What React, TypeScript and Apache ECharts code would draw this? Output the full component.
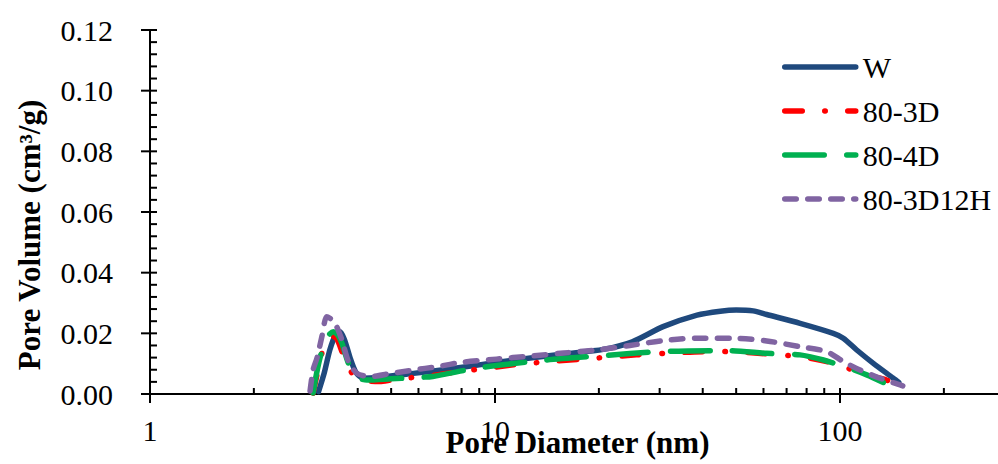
import React, { useEffect, useRef } from "react";
import * as echarts from "echarts";

// Pore diameter (nm) / pore volume (cm3/g)
const W_D = [3.08, 3.2, 3.32, 3.45, 3.55, 3.66, 3.8, 3.95, 4.15, 4.6, 5.8, 7.0, 9.0, 11, 15.8, 20.6, 25, 30.7, 38.5, 45, 50, 56, 61.3, 76.6, 95.6, 102.2, 111.8, 124.9, 142.7, 148];
const W_V = [0.0008, 0.007, 0.0145, 0.0195, 0.0205, 0.018, 0.012, 0.0072, 0.0052, 0.0055, 0.0068, 0.0079, 0.0096, 0.011, 0.0132, 0.0147, 0.0172, 0.0222, 0.026, 0.0273, 0.0277, 0.0274, 0.0262, 0.0233, 0.02, 0.0184, 0.0145, 0.0101, 0.0052, 0.0038];

const R_D = [2.97, 3.05, 3.15, 3.27, 3.38, 3.48, 3.6, 3.75, 3.95, 4.3, 4.64, 5.0, 5.5, 6.48, 7.24, 9, 11.3, 14, 17.6, 21, 25.7, 32, 42, 50, 61.3, 76.6, 91.5, 102.2, 119.5, 136.5, 152];
const R_V = [0.0003, 0.0065, 0.0135, 0.0178, 0.019, 0.0182, 0.014, 0.009, 0.0055, 0.0043, 0.0041, 0.0046, 0.0052, 0.006, 0.0068, 0.0082, 0.0096, 0.0106, 0.0114, 0.0121, 0.0129, 0.0135, 0.014, 0.0139, 0.0132, 0.0123, 0.0107, 0.009, 0.0063, 0.0046, 0.0027];

const G_D = [2.97, 3.04, 3.12, 3.21, 3.3, 3.4, 3.5, 3.6, 3.76, 3.97, 4.25, 5.0, 5.8, 6.6, 9.05, 14.1, 19.7, 30.7, 48, 61.3, 76.6, 89.5, 104.6, 119.5, 133.5];
const G_V = [0.0003, 0.0068, 0.0125, 0.0167, 0.0195, 0.0205, 0.0195, 0.0167, 0.0101, 0.0057, 0.0046, 0.005, 0.0054, 0.0058, 0.0087, 0.0112, 0.0125, 0.014, 0.0143, 0.0134, 0.0129, 0.0112, 0.0088, 0.0063, 0.0038];

const P_D = [2.91, 2.97, 3.05, 3.15, 3.25, 3.34, 3.44, 3.6, 3.76, 3.98, 4.34, 5.0, 5.8, 6.78, 8.09, 10.1, 12.6, 15.8, 19.7, 24.6, 30.7, 38.4, 49.1, 61.3, 76.6, 91.5, 102.2, 114.3, 130.6, 149.3, 152];
const P_V = [0.001, 0.008, 0.012, 0.019, 0.0255, 0.0248, 0.0233, 0.0178, 0.0107, 0.0068, 0.0057, 0.0068, 0.0079, 0.009, 0.0105, 0.0115, 0.0125, 0.0135, 0.0145, 0.016, 0.0176, 0.0184, 0.0184, 0.0175, 0.0156, 0.014, 0.0107, 0.0079, 0.0052, 0.003, 0.0027];

const SERIES_NAMES = ["W", "80-3D", "80-4D", "80-3D12H"];
const X_TICKS = [1, 2, 3, 4, 5, 6, 7, 8, 9, 10, 20, 30, 40, 50, 60, 70, 80, 90, 100, 200];
const X_MAJOR = [1, 10, 100];
const Y_TICKS = [0, 0.004, 0.008, 0.012, 0.016, 0.02, 0.024, 0.028, 0.032, 0.036, 0.04, 0.044, 0.048, 0.052, 0.056, 0.06, 0.064, 0.068, 0.072, 0.076, 0.08, 0.084, 0.088, 0.092, 0.096, 0.1, 0.104, 0.108, 0.112, 0.116, 0.12];
const Y_MAJOR = [0, 0.02, 0.04, 0.06, 0.08, 0.1, 0.12];

const FONT = "'Liberation Serif', 'Times New Roman', Times, serif";
const LW = 5.5;

function zip(xs: number[], ys: number[]) {
  return xs.map((x, i) => [x, ys[i]]);
}

export default function App() {
  const ref = useRef<HTMLDivElement>(null);
  useEffect(() => {
    if (!ref.current) return;
    const chart = echarts.init(ref.current, null, { renderer: "svg" });
    const lineBase = {
      type: "line",
      smooth: 0.25,
      symbol: "none",
      showSymbol: false,
      z: 3,
    };
    chart.setOption({
      animation: false,
      textStyle: { fontFamily: FONT },
      grid: { left: 150, right: 0, top: 30, bottom: 70, containLabel: false, outerBoundsMode: "none" },
      legend: {
        orient: "vertical",
        left: 782,
        top: 52,
        padding: 0,
        itemWidth: 71,
        itemHeight: 14,
        itemGap: 14,
        data: SERIES_NAMES,
        itemStyle: { color: "rgba(0,0,0,0)", borderWidth: 0, opacity: 0 },
        lineStyle: { width: "inherit" },
        textStyle: { fontFamily: FONT, fontSize: 30, color: "#000", lineHeight: 30, padding: [0, 0, 0, 2] },
      },
      xAxis: {
        type: "log",
        logBase: 10,
        min: 1,
        max: 287,
        name: "Pore Diameter (nm)",
        nameLocation: "middle",
        nameGap: 33,
        nameMoveOverlap: false,
        nameTextStyle: { fontFamily: FONT, fontSize: 31, fontWeight: "bold", color: "#000", padding: [0, 0, 0, 7] },
        axisLine: { show: true, onZero: false, lineStyle: { color: "#000", width: 2 } },
        axisTick: { show: false },
        splitLine: { show: false },
        minorTick: { show: false },
        axisLabel: {
          showMaxLabel: false,
          margin: 21,
          fontFamily: FONT,
          fontSize: 30,
          color: "#000",
          formatter: (v: number) => String(Math.round(v)),
        },
      },
      yAxis: {
        type: "value",
        min: 0,
        max: 0.12,
        interval: 0.02,
        name: "Pore Volume (cm³/g)",
        nameLocation: "middle",
        nameGap: 105,
        nameMoveOverlap: false,
        nameTextStyle: { fontFamily: FONT, fontSize: 31, fontWeight: "bold", color: "#000", padding: [0, 46, 0, 0] },
        axisLine: { show: true, onZero: false, lineStyle: { color: "#000", width: 2 } },
        axisTick: { show: false },
        splitLine: { show: false },
        axisLabel: {
          margin: 37,
          fontFamily: FONT,
          fontSize: 30,
          color: "#000",
          formatter: (v: number) => v.toFixed(2),
        },
      },
      series: [
        {
          ...lineBase,
          name: SERIES_NAMES[0],
          data: zip(W_D, W_V),
          lineStyle: { color: "#1F497D", width: LW, type: "solid", cap: "round", join: "round" },
          itemStyle: { color: "#1F497D" },
        },
        {
          ...lineBase,
          name: SERIES_NAMES[1],
          data: zip(R_D, R_V),
          lineStyle: { color: "#FF0000", width: LW, type: [17.5, 22.5, 0.5, 22.5], cap: "round", join: "round" },
          itemStyle: { color: "#FF0000" },
        },
        {
          ...lineBase,
          name: SERIES_NAMES[2],
          data: zip(G_D, G_V),
          lineStyle: { color: "#00B050", width: LW, type: [39.5, 22.5], cap: "round", join: "round" },
          itemStyle: { color: "#00B050" },
        },
        {
          ...lineBase,
          name: SERIES_NAMES[3],
          data: zip(P_D, P_V),
          lineStyle: { color: "#8064A2", width: LW, type: [11.5, 11.5], cap: "round", join: "round" },
          itemStyle: { color: "#8064A2" },
        },
        {
          type: "custom",
          name: "xticks",
          silent: true,
          clip: false,
          z: 1,
          data: X_TICKS.map((t) => [t, 0]),
          encode: { x: 0, y: 1 },
          renderItem: (params: any, api: any) => {
            const v = api.value(0);
            const p = api.coord([v, 0]);
            const major = X_MAJOR.includes(v);
            return {
              type: "line",
              shape: { x1: p[0], y1: p[1] - 6, x2: p[0], y2: p[1] + (major ? 9 : 0) },
              style: { stroke: "#000", lineWidth: 2 },
            };
          },
        },
        {
          type: "custom",
          name: "yticks",
          silent: true,
          clip: false,
          z: 1,
          data: Y_TICKS.map((t) => [1, t]),
          encode: { x: 0, y: 1 },
          renderItem: (params: any, api: any) => {
            const v = api.value(1);
            const p = api.coord([1, v]);
            const major = Y_MAJOR.some((m) => Math.abs(m - v) < 1e-9);
            return {
              type: "line",
              shape: { x1: p[0] - (major ? 9 : 0), y1: p[1], x2: p[0] + 7, y2: p[1] },
              style: { stroke: "#000", lineWidth: 2 },
            };
          },
        },
      ],
    });
    return () => chart.dispose();
  }, []);
  return (
    <div
      ref={ref}
      style={{ position: "absolute", left: 0, top: 0, width: 998, height: 464, background: "#fff" }}
    />
  );
}
